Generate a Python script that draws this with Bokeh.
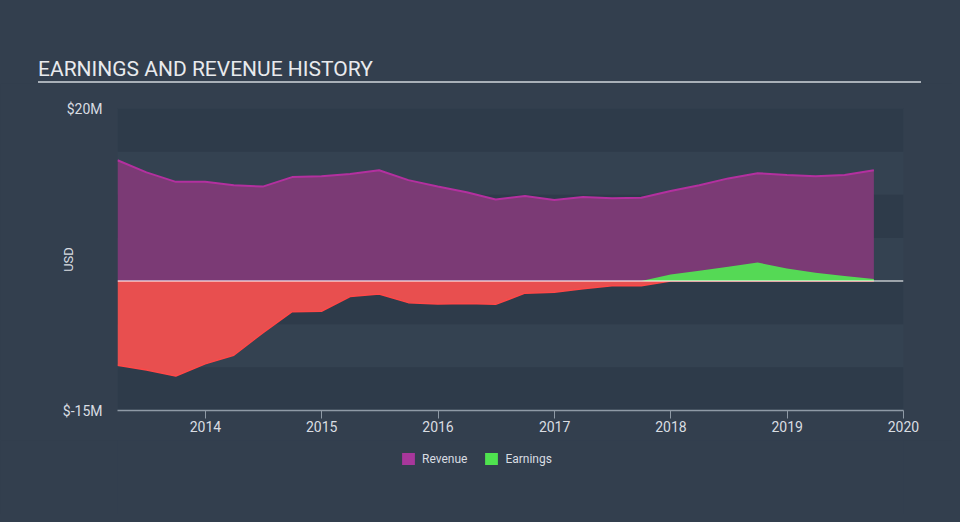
import numpy as np
import pandas as pd
from bokeh.plotting import figure
from bokeh.layouts import column
from bokeh.models import (Range1d, FixedTicker, PrintfTickFormatter, DatetimeTickFormatter,
                          BoxAnnotation, Span, Legend, LegendItem, ColumnDataSource, Div)
from bokeh.embed import file_html
from bokeh.resources import INLINE

# ---- data (USD millions, quarterly) ----
quarters = ["2013-03-31", "2013-06-30", "2013-09-30", "2013-12-31",
            "2014-03-31", "2014-06-30", "2014-09-30", "2014-12-31",
            "2015-03-31", "2015-06-30", "2015-09-30", "2015-12-31",
            "2016-03-31", "2016-06-30", "2016-09-30", "2016-12-31",
            "2017-03-31", "2017-06-30", "2017-09-30", "2017-12-31",
            "2018-03-31", "2018-06-30", "2018-09-30", "2018-12-31",
            "2019-03-31", "2019-06-30", "2019-09-30"]
revenue = [14.0, 12.6, 11.5, 11.5, 11.1, 10.95, 12.05, 12.15, 12.4, 12.85, 11.7, 10.95,
           10.3, 9.45, 9.85, 9.4, 9.75, 9.6, 9.65, 10.45, 11.1, 11.9, 12.5, 12.3,
           12.15, 12.3, 12.85]
earnings = [-9.75, -10.3, -11.0, -9.6, -8.6, -6.0, -3.55, -3.5, -1.8, -1.5, -2.5, -2.65,
            -2.6, -2.7, -1.4, -1.3, -0.9, -0.55, -0.55, 0.75, 1.2, 1.65, 2.15, 1.45,
            0.95, 0.6, 0.25]
y_ticks = [-15, 20]
x_tick_years = [2014, 2015, 2016, 2017, 2018, 2019, 2020]
series_names = ["Revenue", "Earnings"]
title_text = "EARNINGS AND REVENUE HISTORY"

BG = "#333f4e"
BAND_LIGHT = "#344251"
BAND_DARK = "#2e3b4a"
TXT = "#d9dde2"

dates = pd.to_datetime(quarters)
e = np.array(earnings)
src = ColumnDataSource(dict(
    date=dates,
    rev=revenue,
    neg=np.minimum(e, 0.0),
    pos=np.maximum(e, 0.0),
    zero=np.zeros(len(e)),
))

p = figure(width=952, height=357, x_axis_type="datetime",
           output_backend="svg", toolbar_location=None,
           x_range=Range1d(dates[0], pd.Timestamp("2020-01-01")),
           y_range=Range1d(y_ticks[0], y_ticks[-1]),
           min_border_left=117, min_border_right=49,
           min_border_top=25, min_border_bottom=30)

p.background_fill_color = BAND_LIGHT
p.border_fill_color = BG
p.outline_line_color = None
p.grid.grid_line_color = None

# alternating bands every 5M
for b in range(-15, 20, 10):
    p.add_layout(BoxAnnotation(bottom=b, top=b + 5, fill_color=BAND_DARK, fill_alpha=1.0,
                               line_color=None, level="underlay"))

# areas
p.varea(x="date", y1="zero", y2="rev", source=src, fill_color="#7b3a75")
p.line(x="date", y="rev", source=src, line_color="#b3309f", line_width=2)
p.varea(x="date", y1="zero", y2="neg", source=src, fill_color="#e84f4f")
p.line(x="date", y="neg", source=src, line_color="#ff4848", line_width=1.5)
p.varea(x="date", y1="zero", y2="pos", source=src, fill_color="#55d955")

p.add_layout(Span(location=0, dimension="width", line_color="#ffffff",
                  line_alpha=0.7, line_width=1.5))

# x axis
xt = [pd.Timestamp(f"{y}-01-01").timestamp() * 1000 for y in x_tick_years]
p.xaxis.ticker = FixedTicker(ticks=xt)
p.xaxis.formatter = DatetimeTickFormatter(years="%Y", months="%Y", days="%Y",
                                          hours="%Y", hourmin="%Y")
p.xaxis.axis_line_color = "#8f9aa6"
p.xaxis.axis_line_width = 1.5
p.xaxis.major_tick_line_color = "#8f9aa6"
p.xaxis.major_tick_out = 8
p.xaxis.major_tick_in = 0
p.xaxis.minor_tick_line_color = None
p.xaxis.major_label_standoff = 2
p.xaxis.major_label_text_font = "Roboto"
p.xaxis.major_label_text_font_size = "14px"
p.xaxis.major_label_text_color = TXT

# y axis
p.yaxis.ticker = FixedTicker(ticks=y_ticks)
p.yaxis.formatter = PrintfTickFormatter(format="$%dM")
p.yaxis.axis_line_color = None
p.yaxis.major_tick_line_color = None
p.yaxis.minor_tick_line_color = None
p.yaxis.major_label_standoff = 9
p.yaxis.major_label_text_font = "Roboto"
p.yaxis.major_label_text_font_size = "14px"
p.yaxis.major_label_text_color = TXT
p.yaxis.axis_label = "USD"
p.yaxis.axis_label_text_font = "Roboto"
p.yaxis.axis_label_text_font_size = "13px"
p.yaxis.axis_label_text_font_style = "normal"
p.yaxis.axis_label_text_color = TXT
p.yaxis.axis_label_standoff = -16

# legend in its own strip below the chart
lg = figure(width=952, height=74, output_backend="svg", toolbar_location=None,
            x_range=Range1d(0, 1), y_range=Range1d(0, 1),
            min_border_left=0, min_border_right=0, min_border_top=0, min_border_bottom=0)
lg.axis.visible = False
lg.grid.grid_line_color = None
lg.outline_line_color = None
lg.background_fill_color = BG
lg.border_fill_color = BG
nan = [np.nan]
r_rev = lg.quad(left=nan, right=nan, top=nan, bottom=nan, fill_color="#a8379b", line_color=None)
r_earn = lg.quad(left=nan, right=nan, top=nan, bottom=nan, fill_color="#4fe34f", line_color=None)
legend = Legend(items=[LegendItem(label=series_names[0], renderers=[r_rev]),
                       LegendItem(label=series_names[1], renderers=[r_earn])],
                location=(283, 48), orientation="horizontal",
                glyph_width=16, glyph_height=15, label_standoff=6, spacing=16,
                padding=0, margin=0,
                background_fill_alpha=0, border_line_alpha=0,
                label_text_font="Roboto", label_text_font_size="12px",
                label_text_color=TXT)
lg.add_layout(legend)

# title with underline
title_div = Div(text=title_text, width=883, height=83, margin=(0, 0, 0, 38),
                styles={"font-family": "Roboto", "font-size": "21px",
                        "line-height": "22px", "color": "#e8eaed",
                        "padding-top": "58px", "padding-bottom": "1px",
                        "border-bottom": "2px solid #a9b0b8",
                        "box-sizing": "border-box", "white-space": "nowrap"})

layout = column(title_div, p, lg, spacing=0)

html = file_html(layout, INLINE)
html = html.replace("</head>", "<style>html,body{background:%s;}</style></head>" % BG, 1)
open("out.html", "w").write(html)
